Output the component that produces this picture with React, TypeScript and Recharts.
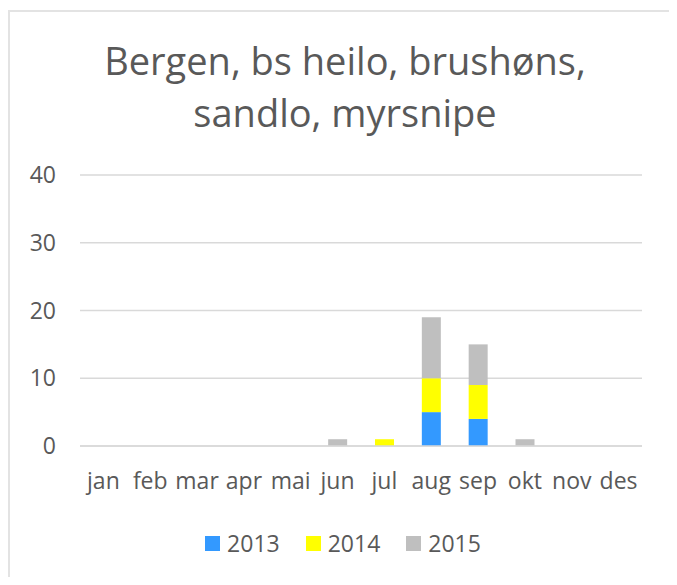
import { BarChart, Bar, XAxis, YAxis, CartesianGrid, Legend } from "recharts";

// måneder og antall per år (stablet)
const months = ["jan", "feb", "mar", "apr", "mai", "jun", "jul", "aug", "sep", "okt", "nov", "des"];
const y2013 = [0, 0, 0, 0, 0, 0, 0, 5, 4, 0, 0, 0];
const y2014 = [0, 0, 0, 0, 0, 0, 1, 5, 5, 0, 0, 0];
const y2015 = [0, 0, 0, 0, 0, 1, 0, 9, 6, 1, 0, 0];
const yTicks = [0, 10, 20, 30, 40];

const series = [
  { key: "2013", values: y2013, color: "#3399FF" },
  { key: "2014", values: y2014, color: "#FFFF00" },
  { key: "2015", values: y2015, color: "#BFBFBF" },
];

const data = months.map((m, i) => {
  const row: Record<string, string | number> = { month: m };
  series.forEach((s) => (row[s.key] = s.values[i]));
  return row;
});

const FONT = "'Open Sans', sans-serif";
const TEXT = "#595959";

const renderLegend = ({ payload }: any) => (
  <div style={{ display: "flex", justifyContent: "center", alignItems: "center", fontFamily: FONT, fontSize: 23, color: TEXT, paddingLeft: 14 }}>
    {(payload ?? []).map((p: any) => (
      <span key={p.value} style={{ display: "flex", alignItems: "center", margin: "0 13px" }}>
        <span style={{ width: 15, height: 15, background: p.color, display: "inline-block", marginRight: 7 }} />
        {p.value}
      </span>
    ))}
  </div>
);

export default function App() {
  return (
    <div style={{ position: "relative", width: 677, height: 585, margin: -8, background: "#fff", overflow: "hidden" }}>
      {/* ramme */}
      <div style={{ position: "absolute", left: 8, top: 0, right: 0, height: 2, background: "#8f8f8f" }} />
      <div style={{ position: "absolute", left: 8, top: 10, width: 665, height: 600, border: "2px solid #e3e3e3" }} />
      <div
        style={{
          position: "absolute",
          left: 45,
          width: 600,
          top: 34,
          textAlign: "center",
          fontFamily: FONT,
          fontSize: 38,
          lineHeight: "52px",
          color: TEXT,
        }}
      >
        Bergen, bs heilo, brushøns,
        <br />
        sandlo, myrsnipe
      </div>
      <div style={{ position: "absolute", left: 0, top: 0 }}>
        <BarChart width={677} height={585} data={data} margin={{ top: 175, right: 35, bottom: 23, left: 30 }}>
          <CartesianGrid vertical={false} stroke="#d9d9d9" strokeWidth={1.5} />
          <XAxis
            dataKey="month"
            height={81}
            tickSize={0}
            tickMargin={27}
            axisLine={{ stroke: "#d9d9d9", strokeWidth: 1.5 }}
            tick={{ fill: TEXT, fontSize: 23, fontFamily: FONT }}
            interval={0}
          />
          <YAxis
            width={50}
            domain={[0, 40]}
            ticks={yTicks}
            tickSize={0}
            tickMargin={24}
            axisLine={false}
            tick={{ fill: TEXT, fontSize: 23, fontFamily: FONT }}
          />
          <Legend verticalAlign="bottom" height={35} content={renderLegend} />
          {series.map((s) => (
            <Bar key={s.key} dataKey={s.key} name={s.key} stackId="a" fill={s.color} barSize={19} isAnimationActive={false} />
          ))}
        </BarChart>
      </div>
    </div>
  );
}
